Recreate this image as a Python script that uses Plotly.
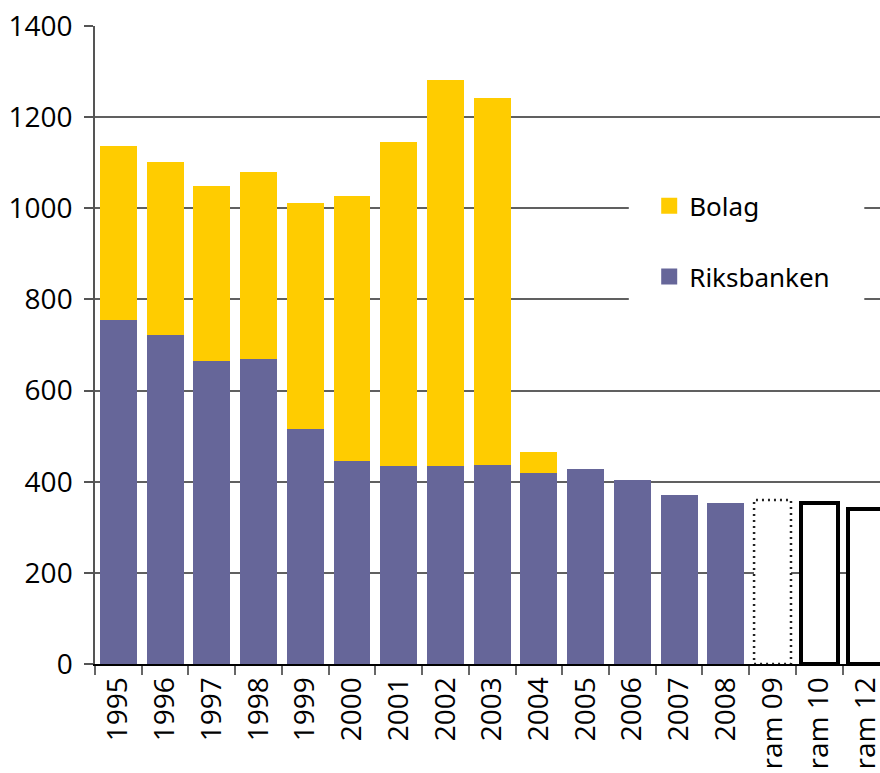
import plotly.graph_objects as go

categories = ["1995", "1996", "1997", "1998", "1999", "2000", "2001", "2002",
              "2003", "2004", "2005", "2006", "2007", "2008", "ram 09", "ram 10", "ram 12"]
riksbanken = [755, 722, 665, 669, 516, 445, 434, 434, 437, 419, 428, 404, 371, 353, None, None, None]
bolag = [382, 380, 384, 411, 496, 582, 712, 848, 805, 46, None, None, None, None, None, None, None]
ram = [None] * 14 + [360, 354, 340]
ram_line_width = [0] * 14 + [0, 4, 4]
ram_dotted = ["ram 09"]
yticks = [0, 200, 400, 600, 800, 1000, 1200, 1400]

YELLOW = "#FFCC00"
PURPLE = "#666699"
FONT = "Open Sans"

fig = go.Figure()
fig.add_bar(x=categories, y=riksbanken, marker=dict(color=PURPLE, line=dict(width=0)),
            showlegend=False, name="Riksbanken")
fig.add_bar(x=categories, y=bolag, marker=dict(color=YELLOW, line=dict(width=0)),
            showlegend=False, name="Bolag")
fig.add_bar(x=categories, y=ram,
            marker=dict(color="white", line=dict(color="black", width=ram_line_width)),
            showlegend=False, name="ram")

# legend entries
fig.add_scatter(x=[None], y=[None], mode="markers", name="Bolag",
                marker=dict(symbol="square", size=18, color=YELLOW), legendgroup="a")
fig.add_scatter(x=[None], y=[None], mode="markers", name="Riksbanken",
                marker=dict(symbol="square", size=18, color=PURPLE), legendgroup="b")

# dotted outline for planned frame
half = (1 - 0.21) / 2
for cat in ram_dotted:
    i = categories.index(cat)
    fig.add_shape(type="rect", xref="x", yref="y", x0=i - half, x1=i + half,
                  y0=0, y1=ram[i], line=dict(color="#222222", width=2.5, dash="2px,4px"),
                  fillcolor="rgba(0,0,0,0)", layer="above")

# white box behind legend (hides gridlines)
fig.add_shape(type="rect", xref="paper", yref="paper", x0=0.68, x1=0.98, y0=0.54, y1=0.76,
              line=dict(width=0), fillcolor="white", layer="above")

fig.update_layout(
    width=880, height=773,
    margin=dict(l=95, r=0, t=26, b=109),
    paper_bgcolor="white", plot_bgcolor="white",
    barmode="stack", bargap=0.21,
    font=dict(family=FONT, size=28, color="black"),
    legend=dict(x=0.706, y=0.755, xanchor="left", yanchor="top",
                bgcolor="rgba(255,255,255,0)", borderwidth=0,
                font=dict(family="Noto Sans", size=26),
                tracegroupgap=34, itemsizing="trace"),
)
fig.update_xaxes(
    type="category", range=[-0.5, 16.3], automargin=False,
    tickangle=-90, tickson="boundaries", ticks="outside", ticklen=9,
    tickcolor="#666666", tickwidth=1.5,
    showline=True, linecolor="black", linewidth=2,
    showgrid=False, tickfont=dict(family=FONT, size=28),
)
fig.update_yaxes(
    range=[0, 1400], tickvals=yticks, automargin=False,
    ticks="outside", ticklen=9, tickcolor="#555555", tickwidth=1.5,
    showline=True, linecolor="#555555", linewidth=1.5,
    showgrid=True, gridcolor="#606060", gridwidth=1.6,
    zeroline=False, tickfont=dict(family=FONT, size=28),
    ticklabelstandoff=6,
)

fig.write_html("out.html", config={"displayModeBar": False},
               post_script="document.body.style.margin='0';document.body.style.overflow='hidden';")
